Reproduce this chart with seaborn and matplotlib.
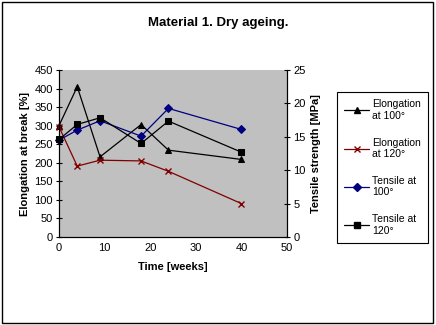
import matplotlib
matplotlib.use("Agg")
import matplotlib.pyplot as plt
import seaborn as sns
import numpy as np
from matplotlib.patches import Rectangle
from matplotlib.lines import Line2D

weeks = [0, 4, 9, 18, 24, 40]
elong_100 = [300, 405, 216, 303, 234, 209]
elong_120 = [297, 191, 207, 205, 177, 90]
tensile_100 = [14.5, 16.0, 17.4, 15.1, 19.25, 16.1]
tensile_120 = [14.6, 16.85, 17.85, 14.0, 17.35, 12.7]

sns.set_theme(style="white")
plt.rcParams['font.family'] = ['Liberation Sans', 'DejaVu Sans']
plt.rcParams['text.color'] = 'black'
plt.rcParams['axes.labelcolor'] = 'black'

fig = plt.figure(figsize=(4.36, 3.25), dpi=100)
fig.patch.set_facecolor('white')
ax = fig.add_axes([59/436, 1-237/325, 228/436, 167/325])
ax.set_facecolor('#C0C0C0')
ax2 = ax.twinx()

styles = [
    dict(color='black', marker='^', markersize=5, markeredgecolor='black'),
    dict(color='#800000', marker='x', markersize=4.5, markeredgecolor='#800000', markeredgewidth=1),
    dict(color='#000080', marker='D', markersize=3.8, markeredgecolor='#000080'),
    dict(color='black', marker='s', markersize=4.8, markeredgecolor='black'),
]

sns.lineplot(x=weeks, y=elong_100, ax=ax, linewidth=0.9, legend=False, clip_on=False, **styles[0])
sns.lineplot(x=weeks, y=elong_120, ax=ax, linewidth=0.9, legend=False, clip_on=False, **styles[1])
sns.lineplot(x=weeks, y=tensile_100, ax=ax2, linewidth=0.9, legend=False, clip_on=False, **styles[2])
sns.lineplot(x=weeks, y=tensile_120, ax=ax2, linewidth=0.9, legend=False, clip_on=False, **styles[3])

ax.set_xlim(0, 50)
ax.set_ylim(0, 450)
ax2.set_ylim(0, 25)
ax.set_xticks(range(0, 51, 10))
ax.set_yticks(range(0, 451, 50))
ax2.set_yticks(range(0, 26, 5))

for a in (ax, ax2):
    for s in a.spines.values():
        s.set_color('black')
        s.set_linewidth(0.8)
    a.spines['top'].set_visible(False)
    a.tick_params(direction='inout', length=5, width=0.8, colors='black', labelsize=8, pad=2)
ax.grid(False)
ax2.grid(False)

ax.set_xlabel('Time [weeks]', fontsize=8, fontweight='bold', labelpad=6)
ax.set_ylabel('Elongation at break [%]', fontsize=8, fontweight='bold', labelpad=3)
ax2.set_ylabel('Tensile strength [MPa]', fontsize=8, fontweight='bold', labelpad=4)

fig.text(218/436, 1-23/325, 'Material 1. Dry ageing.', ha='center', va='center',
         fontsize=9.5, fontweight='bold', color='black')

handles = [Line2D([], [], linewidth=0.9, **st) for st in styles]
labels = ['Elongation\nat 100°', 'Elongation\nat 120°', 'Tensile at\n100°', 'Tensile at\n120°']
leg = fig.legend(handles, labels, loc='upper left', bbox_to_anchor=(337/436, 1-92/325),
                 frameon=True, fancybox=False, fontsize=7.5, handlelength=2.4,
                 labelspacing=1.6, borderpad=0.7, handletextpad=0.3, borderaxespad=0,
                 framealpha=1)
leg.get_frame().set_edgecolor('black')
leg.get_frame().set_linewidth(0.8)
for t in leg.get_texts():
    t.set_color('black')

fig.add_artist(Rectangle((2/436, 2/325), 431/436, 321/325, transform=fig.transFigure,
                         fill=False, edgecolor='black', linewidth=1))

fig.savefig('out.png', dpi=100)
